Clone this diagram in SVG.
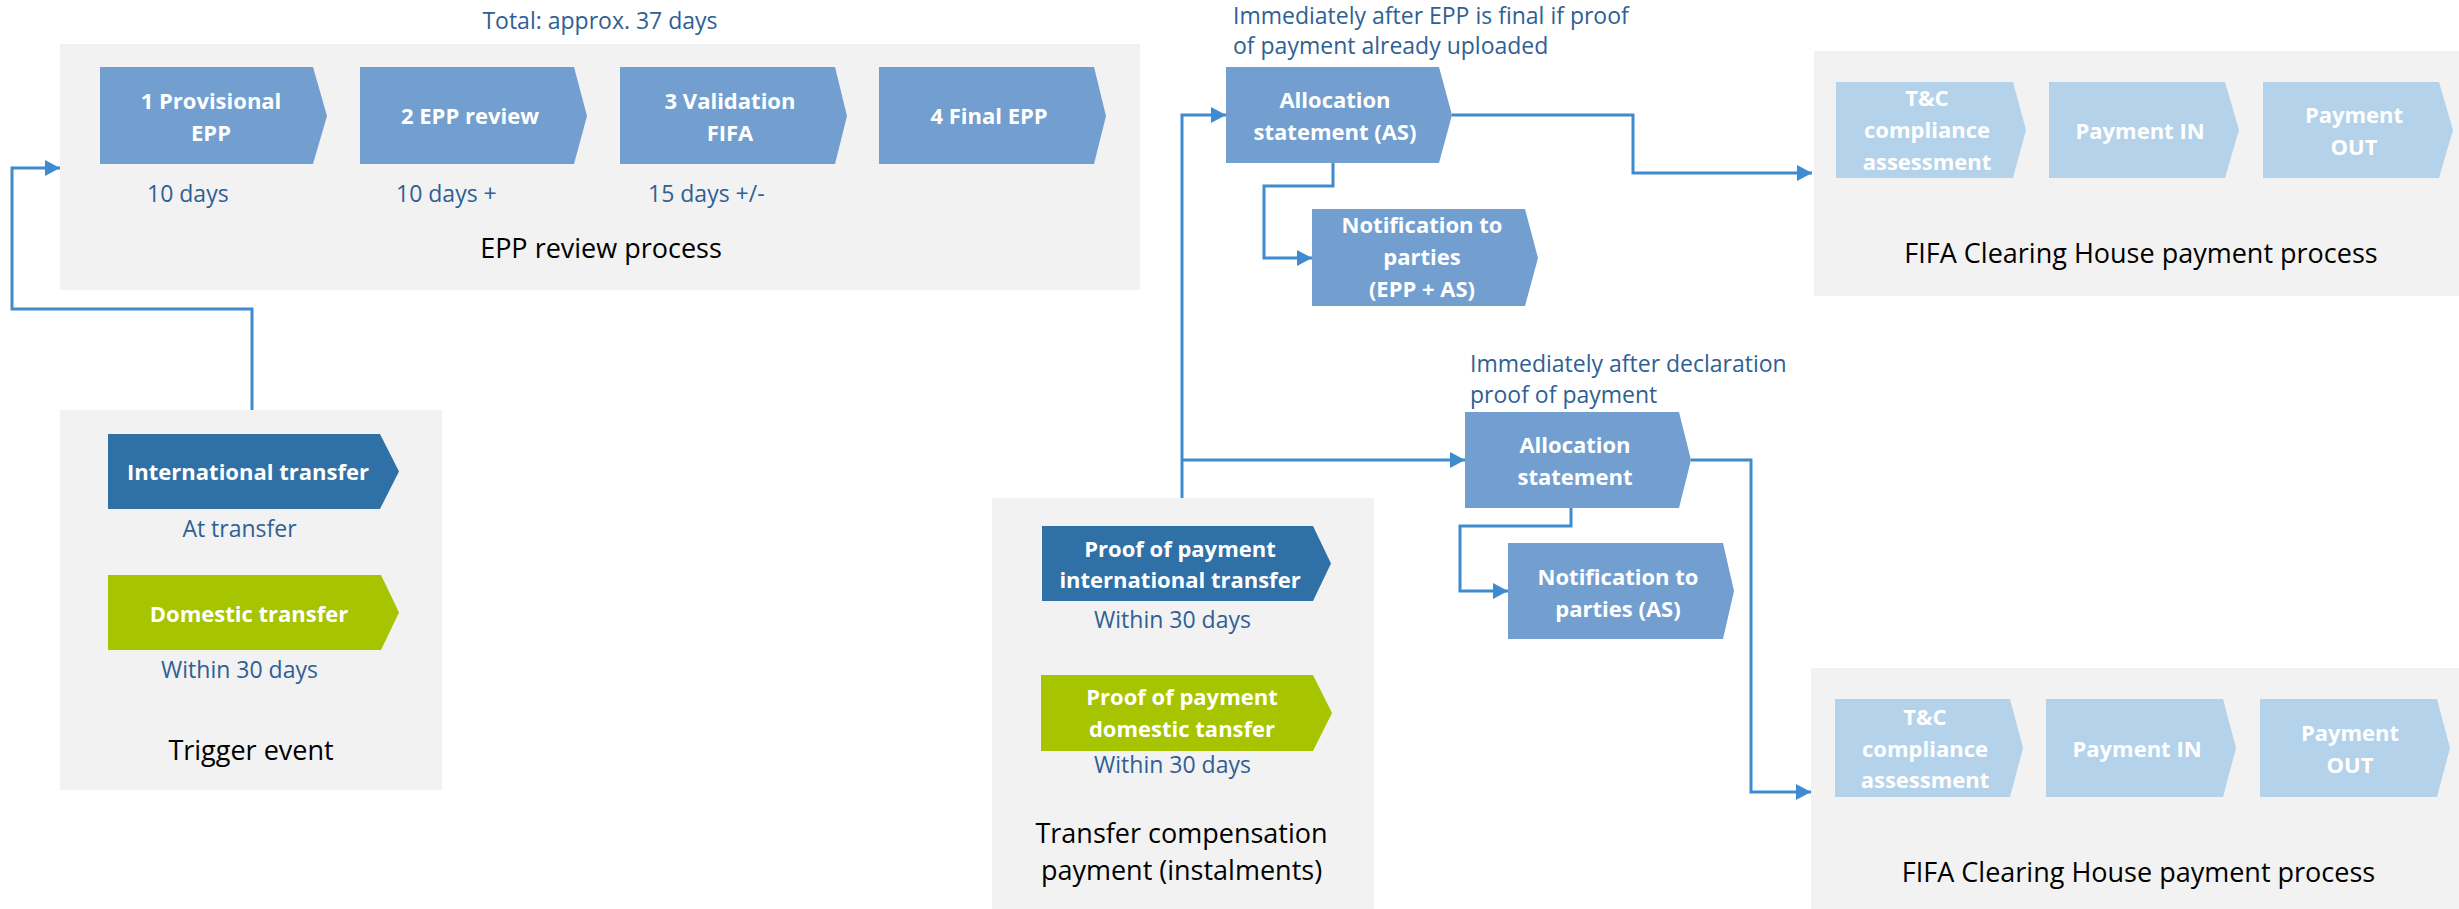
<svg xmlns="http://www.w3.org/2000/svg" width="2459" height="909" viewBox="0 0 2459 909">
<style>
.bg{fill:#F2F2F2}
.mb{fill:#729FCF}
.db{fill:#2F71A6}
.gr{fill:#A7C400}
.lb{fill:#B4D3EB}
.ct{font-family:"Open Sans","Liberation Sans",sans-serif;font-weight:bold;font-size:22px;fill:#FFFFFF;text-anchor:middle}
.an{font-family:"Open Sans","Liberation Sans",sans-serif;font-size:23px;fill:#2F5F94}
.ti{font-family:"Open Sans","Liberation Sans",sans-serif;font-size:27px;fill:#000000;text-anchor:middle}
.cn{fill:none;stroke:#3F8BCF;stroke-width:3}
</style>
<defs>
<marker id="ah" markerUnits="userSpaceOnUse" markerWidth="15" markerHeight="16" refX="15" refY="8" orient="auto">
<path d="M0,0 L15,8 L0,16 z" fill="#3F8BCF"/>
</marker>
</defs>

<g id="epp-review">
<rect class="bg" x="60" y="44" width="1080" height="246"/>
<text class="an" x="600" y="29" text-anchor="middle">Total: approx. 37 days</text>
<polygon class="mb" points="100,67 313,67 327,116 313,164 100,164"/>
<text class="ct" x="211" y="109">1 Provisional</text>
<text class="ct" x="211" y="141">EPP</text>
<polygon class="mb" points="360,67 574,67 587,116 574,164 360,164"/>
<text class="ct" x="470" y="124">2 EPP review</text>
<polygon class="mb" points="620,67 835,67 847,116 835,164 620,164"/>
<text class="ct" x="730" y="109">3 Validation</text>
<text class="ct" x="730" y="141">FIFA</text>
<polygon class="mb" points="879,67 1094,67 1106,116 1094,164 879,164"/>
<text class="ct" x="989" y="124">4 Final EPP</text>
<text class="an" x="147" y="202">10 days</text>
<text class="an" x="396" y="202">10 days +</text>
<text class="an" x="648" y="202">15 days +/-</text>
<text class="ti" x="601" y="258">EPP review process</text>
</g>

<g id="trigger-event">
<rect class="bg" x="60" y="410" width="382" height="380"/>
<polygon class="db" points="108,434 380,434 399,471.5 380,509 108,509"/>
<text class="ct" x="248" y="480">International transfer</text>
<text class="an" x="239.5" y="537" text-anchor="middle">At transfer</text>
<polygon class="gr" points="108,575 381,575 399,612.5 381,650 108,650"/>
<text class="ct" x="249" y="622">Domestic transfer</text>
<text class="an" x="239.5" y="678" text-anchor="middle">Within 30 days</text>
<text class="ti" x="251" y="760">Trigger event</text>
</g>

<g id="allocation-statement-as">
<text class="an" x="1233" y="24">Immediately after EPP is final if proof</text>
<text class="an" x="1233" y="54">of payment already uploaded</text>
<polygon class="mb" points="1226,67 1439,67 1452,115 1439,163 1226,163"/>
<text class="ct" x="1335" y="108">Allocation</text>
<text class="ct" x="1335" y="140">statement (AS)</text>
</g>

<g id="notification-epp-as">
<polygon class="mb" points="1312,209 1525,209 1538,258 1525,306 1312,306"/>
<text class="ct" x="1422" y="233">Notification to</text>
<text class="ct" x="1422" y="265">parties</text>
<text class="ct" x="1422" y="297">(EPP + AS)</text>
</g>

<g id="clearing-house-1">
<rect class="bg" x="1814" y="51" width="645" height="245"/>
<polygon class="lb" points="1836,82 2013,82 2026,130 2013,178 1836,178"/>
<text class="ct" x="1927" y="106">T&amp;C</text>
<text class="ct" x="1927" y="138">compliance</text>
<text class="ct" x="1927" y="170">assessment</text>
<polygon class="lb" points="2049,82 2225,82 2239,130 2225,178 2049,178"/>
<text class="ct" x="2140" y="139">Payment IN</text>
<polygon class="lb" points="2263,82 2439,82 2453,130 2439,178 2263,178"/>
<text class="ct" x="2354" y="123">Payment</text>
<text class="ct" x="2354" y="155">OUT</text>
<text class="ti" x="2141" y="263">FIFA Clearing House payment process</text>
</g>

<g id="allocation-statement">
<text class="an" x="1470" y="372">Immediately after declaration</text>
<text class="an" x="1470" y="403">proof of payment</text>
<polygon class="mb" points="1465,412 1679,412 1691,460 1679,508 1465,508"/>
<text class="ct" x="1575" y="453">Allocation</text>
<text class="ct" x="1575" y="485">statement</text>
</g>

<g id="notification-as">
<polygon class="mb" points="1508,543 1723,543 1734,591 1723,639 1508,639"/>
<text class="ct" x="1618" y="585">Notification to</text>
<text class="ct" x="1618" y="617">parties (AS)</text>
</g>

<g id="transfer-compensation">
<rect class="bg" x="992" y="498" width="382" height="411"/>
<polygon class="db" points="1042,526 1313,526 1331,563.5 1313,601 1042,601"/>
<text class="ct" x="1180" y="557">Proof of payment</text>
<text class="ct" x="1180" y="588">international transfer</text>
<text class="an" x="1172.5" y="628" text-anchor="middle">Within 30 days</text>
<polygon class="gr" points="1041,675 1313,675 1332,713 1313,751 1041,751"/>
<text class="ct" x="1182" y="705">Proof of payment</text>
<text class="ct" x="1182" y="737">domestic tansfer</text>
<text class="an" x="1172.5" y="773" text-anchor="middle">Within 30 days</text>
<text class="ti" x="1181.5" y="843">Transfer compensation</text>
<text class="ti" x="1181.5" y="880">payment (instalments)</text>
</g>

<g id="clearing-house-2">
<rect class="bg" x="1811" y="668" width="648" height="241"/>
<polygon class="lb" points="1835,699 2010,699 2023,748 2010,797 1835,797"/>
<text class="ct" x="1925" y="725">T&amp;C</text>
<text class="ct" x="1925" y="757">compliance</text>
<text class="ct" x="1925" y="788">assessment</text>
<polygon class="lb" points="2046,699 2223,699 2236,748 2223,797 2046,797"/>
<text class="ct" x="2137" y="757">Payment IN</text>
<polygon class="lb" points="2260,699 2437,699 2450,748 2437,797 2260,797"/>
<text class="ct" x="2350" y="741">Payment</text>
<text class="ct" x="2350" y="773">OUT</text>
<text class="ti" x="2138.5" y="882">FIFA Clearing House payment process</text>
</g>

<g id="connectors">
<path class="cn" d="M252,410 V309 H12 V168 H60" marker-end="url(#ah)"/>
<path class="cn" d="M1182,498 V115 H1226" marker-end="url(#ah)"/>
<path class="cn" d="M1182,460 H1465" marker-end="url(#ah)"/>
<path class="cn" d="M1452,115 H1633 V173 H1812" marker-end="url(#ah)"/>
<path class="cn" d="M1333,163 V186 H1264 V258 H1312" marker-end="url(#ah)"/>
<path class="cn" d="M1691,460 H1751 V792 H1811" marker-end="url(#ah)"/>
<path class="cn" d="M1571,508 V526 H1460 V591 H1508" marker-end="url(#ah)"/>
</g>
</svg>
